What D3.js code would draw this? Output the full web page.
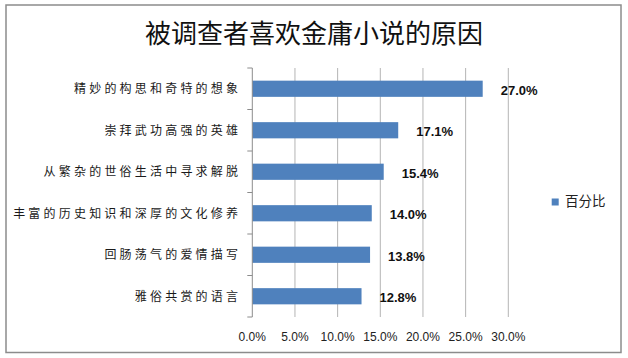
<!DOCTYPE html>
<html>
<head>
<meta charset="utf-8">
<script src="https://cdn.jsdelivr.net/npm/d3@7"></script>
<style>
html,body{margin:0;padding:0;background:#fff;}
svg{display:block;}
</style>
</head>
<body>
<svg id="chart" width="628" height="358"></svg>
<script>
const title = "被调查者喜欢金庸小说的原因";
const categories = ["精妙的构思和奇特的想象","崇拜武功高强的英雄","从繁杂的世俗生活中寻求解脱","丰富的历史知识和深厚的文化修养","回肠荡气的爱情描写","雅俗共赏的语言"];
const values = [27.0, 17.1, 15.4, 14.0, 13.8, 12.8];
const seriesName = "百分比";
const xTicks = [0, 5, 10, 15, 20, 25, 30];

const svg = d3.select("#chart");

// border
svg.append("rect").attr("x", 6).attr("y", 5).attr("width", 615).attr("height", 347.5)
  .attr("fill", "#fff").attr("stroke", "#8c8c8c").attr("stroke-width", 1.5);

svg.append("text").attr("x", 314).attr("y", 43).attr("text-anchor", "middle")
  .attr("font-family", "'Noto Sans CJK SC', sans-serif").attr("font-size", 26)
  .attr("fill", "#111").text(title);

const x = d3.scaleLinear().domain([0, 30]).range([252.3, 508.3]);
const y = d3.scaleBand().domain(categories).range([68, 317]).paddingInner(0.61).paddingOuter(0.305);

// gridlines
svg.append("g").selectAll("line").data(xTicks.slice(1)).join("line")
  .attr("x1", d => x(d)).attr("x2", d => x(d)).attr("y1", 68).attr("y2", 317)
  .attr("stroke", "#b4b4b4").attr("stroke-width", 1);

// bars
svg.append("g").selectAll("rect").data(values).join("rect")
  .attr("x", x(0)).attr("y", (d, i) => y(categories[i]))
  .attr("width", d => x(d) - x(0)).attr("height", y.bandwidth())
  .attr("fill", "#4f81bd");

// y axis line and ticks
const bandStep = y.step();
svg.append("line").attr("x1", x(0)).attr("x2", x(0)).attr("y1", 68).attr("y2", 317)
  .attr("stroke", "#8c8c8c").attr("stroke-width", 1);
svg.append("g").selectAll("line").data(d3.range(categories.length + 1)).join("line")
  .attr("x1", x(0) - 5).attr("x2", x(0)).attr("y1", i => 68 + i * bandStep).attr("y2", i => 68 + i * bandStep)
  .attr("stroke", "#8c8c8c").attr("stroke-width", 1);

// category labels
svg.append("g").selectAll("text").data(categories).join("text")
  .attr("x", 241.2).attr("y", d => y(d) + y.bandwidth() / 2 + 4.5)
  .attr("text-anchor", "end")
  .attr("font-family", "'Noto Sans CJK SC', sans-serif").attr("font-size", 12)
  .attr("letter-spacing", 3.2).attr("fill", "#1a1a1a").text(d => d);

// x tick labels
svg.append("g").selectAll("text").data(xTicks).join("text")
  .attr("x", d => x(d)).attr("y", 341).attr("text-anchor", "middle")
  .attr("font-family", "'Liberation Sans', Arial, sans-serif").attr("font-size", 12)
  .attr("fill", "#222").text(d => d.toFixed(1) + "%");

// data labels
svg.append("g").selectAll("text").data(values).join("text")
  .attr("x", d => x(d) + 18).attr("y", (d, i) => y(categories[i]) + y.bandwidth() / 2 + 6)
  .attr("font-family", "'Liberation Sans', Arial, sans-serif").attr("font-size", 13)
  .attr("font-weight", "bold").attr("fill", "#111").text(d => d.toFixed(1) + "%");

// legend
svg.append("rect").attr("x", 551.7).attr("y", 198.5).attr("width", 7).attr("height", 7).attr("fill", "#4f81bd");
svg.append("text").attr("x", 565).attr("y", 206)
  .attr("font-family", "'Noto Sans CJK SC', sans-serif").attr("font-size", 13.5)
  .attr("fill", "#222").text(seriesName);
</script>
</body>
</html>
